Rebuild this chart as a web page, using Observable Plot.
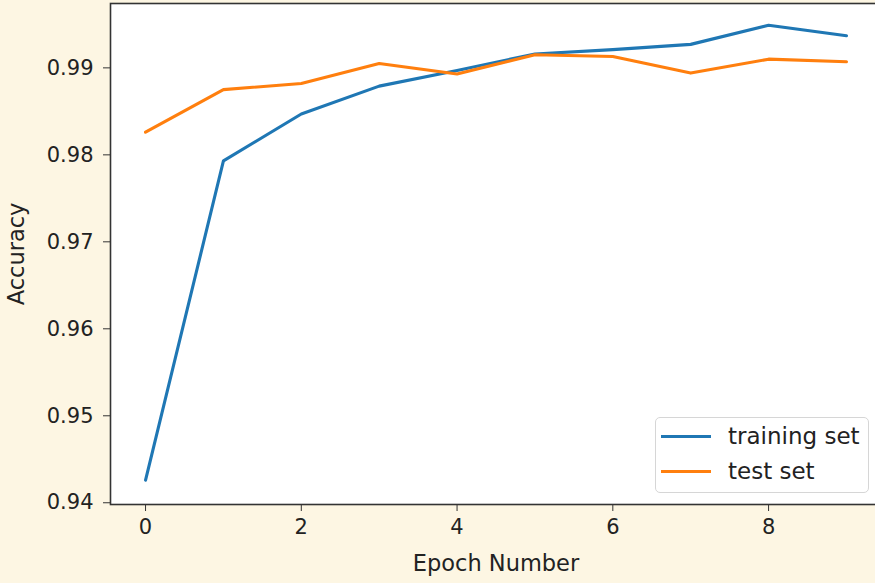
<!DOCTYPE html>
<html>
<head>
<meta charset="utf-8">
<script src="https://cdn.jsdelivr.net/npm/d3@7"></script>
<script src="https://cdn.jsdelivr.net/npm/@observablehq/plot@0.6"></script>
<style>
  html, body { margin: 0; padding: 0; background: #fdf6e3; overflow: hidden; }
  #wrap { position: relative; width: 875px; height: 583px; overflow: hidden; }
  #legend {
    position: absolute; left: 655px; top: 417px; width: 212px; height: 74px;
    background: rgba(255,255,255,0.85); border: 1.5px solid #d6d6d6; border-radius: 5px;
    font-family: "DejaVu Sans", sans-serif; font-size: 23px; color: #222;
  }
  .item { position: absolute; left: 5px; height: 32px; display: flex; align-items: center; }
  .swatch { width: 50px; height: 0; border-top: 3px solid; margin-right: 17px; }
</style>
</head>
<body>
<div id="wrap"><div id="legend"></div></div>
<script>
const epochs = [0, 1, 2, 3, 4, 5, 6, 7, 8, 9];
const trainingAcc = [0.9426, 0.9793, 0.9847, 0.9879, 0.9897, 0.9916, 0.9921, 0.9927, 0.9949, 0.9937];
const testAcc = [0.9826, 0.9875, 0.9882, 0.9905, 0.9893, 0.9915, 0.9913, 0.9894, 0.9910, 0.9907];
const seriesNames = ["training set", "test set"];
const seriesColors = ["#1f77b4", "#ff7f0e"];
const xTicks = [0, 2, 4, 6, 8];
const yTicks = [0.94, 0.95, 0.96, 0.97, 0.98, 0.99];
const xLabel = "Epoch Number";
const yLabel = "Accuracy";

const rows = [];
[trainingAcc, testAcc].forEach((vals, s) => {
  vals.forEach((v, i) => rows.push({epoch: epochs[i], acc: v, series: seriesNames[s]}));
});

const chart = Plot.plot({
  width: 875,
  height: 583,
  marginLeft: 110,
  marginRight: -6,
  marginTop: 3,
  marginBottom: 79,
  style: {background: "#fdf6e3", fontFamily: "DejaVu Sans, sans-serif", fontSize: "21px", color: "#222", overflow: "hidden"},
  x: {domain: [-0.45, 9.45]},
  y: {domain: [0.9398, 0.9974]},
  color: {domain: seriesNames, range: seriesColors},
  marks: [
    Plot.frame({fill: "white", stroke: "none"}),
    Plot.line(rows, {x: "epoch", y: "acc", z: "series", stroke: "series", strokeWidth: 3.1}),
    Plot.frame({stroke: "#333", strokeWidth: 1.6}),
    Plot.axisX({ticks: xTicks, tickSize: 7, tickPadding: 8, tickFormat: d => String(d), stroke: "#333", label: null}),
    Plot.axisY({ticks: yTicks, tickSize: 7, tickPadding: 10, tickFormat: d => d.toFixed(2), stroke: "#333", label: null}),
    Plot.axisX({ticks: [], tickSize: 0, fontSize: 22.5,
      label: xLabel, labelAnchor: "center", labelOffset: 66, labelArrow: "none"}),
    Plot.axisY({ticks: [], tickSize: 0, fontSize: 22.5,
      label: yLabel, labelAnchor: "center", labelOffset: 102, labelArrow: "none"})
  ]
});
document.getElementById("wrap").prepend(chart);

const legend = document.getElementById("legend");
seriesNames.forEach((name, i) => {
  const item = document.createElement("div");
  item.className = "item";
  item.style.top = (2 + i * 35) + "px";
  const sw = document.createElement("div");
  sw.className = "swatch";
  sw.style.borderTopColor = seriesColors[i];
  const t = document.createElement("span");
  t.textContent = name;
  item.append(sw, t);
  legend.append(item);
});
</script>
</body>
</html>
